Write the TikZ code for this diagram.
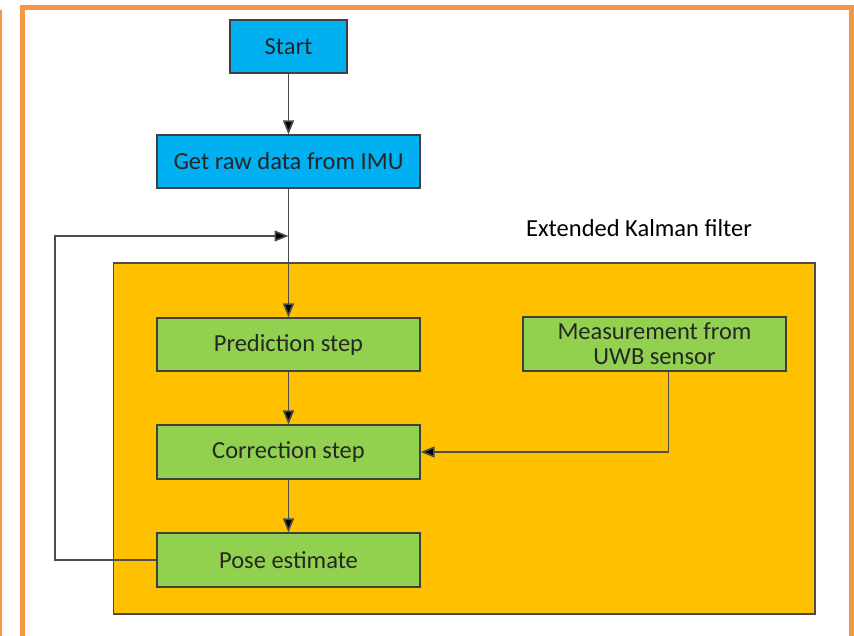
\documentclass[tikz,border=0pt]{standalone}
\usepackage{fontspec}
\setmainfont{Carlito}
\usetikzlibrary{arrows.meta}
\definecolor{framecol}{HTML}{F79646}
\definecolor{bluebox}{HTML}{00B0F0}
\definecolor{greenbox}{HTML}{92D050}
\definecolor{ekfcol}{HTML}{FFC000}
\begin{document}
\begin{tikzpicture}[x=1pt,y=-1pt,
  box/.style={draw=black!75,line width=1.2pt,minimum height=53pt,
    font=\fontsize{24.5}{29}\selectfont,text=black!85,align=center,inner sep=0pt},
  flow/.style={draw=black!70,line width=1.6pt,
    -{Triangle[length=14pt,width=11pt,fill=black]}}]

\useasboundingbox (0,0) rectangle (854,636);

\draw[framecol,line width=5pt] (22,640) -- (22,7.5) -- (851.5,7.5) -- (851.5,640);
\draw[framecol,line width=2.5pt] (1.2,10) -- (1.2,640);

\draw[draw=black!70,line width=1.2pt,fill=ekfcol] (113.5,263) rectangle (815,614);
\node (ekf) at (639,228)
{\fontsize{24.5}{29}\selectfont Extended Kalman filter};

\node[box,fill=bluebox,minimum width=117pt] (start) at (288.5,46.5) {Start};
\node[box,fill=bluebox,minimum width=263pt] (raw) at (288.5,161.5)
{Get raw data from IMU};

\node[box,fill=greenbox,minimum width=263pt] (pred) at (288.5,344.5)
{Prediction step};
\node[box,fill=greenbox,minimum width=263pt,minimum height=54pt] (meas) at (654.5,344)
{Measurement from\\[-4pt]UWB sensor};
\node[box,fill=greenbox,minimum width=263pt,minimum height=54pt] (corr) at (288.5,452)
{Correction step};
\node[box,fill=greenbox,minimum width=263pt,minimum height=54pt] (pose) at (288.5,560)
{Pose estimate};

\coordinate (merge) at (288.5,236);
\coordinate (loop) at (55,236);

\draw[flow] (start) -- (raw);
\draw[flow] (raw) -- (pred);
\draw[flow] (pred) -- (corr);
\draw[flow] (corr) -- (pose);
\draw[flow] ([xshift=14pt]meas.south) |- (corr.east);
\draw[flow] (pose.west) -| (loop) -- (merge);

\end{tikzpicture}
\end{document}
